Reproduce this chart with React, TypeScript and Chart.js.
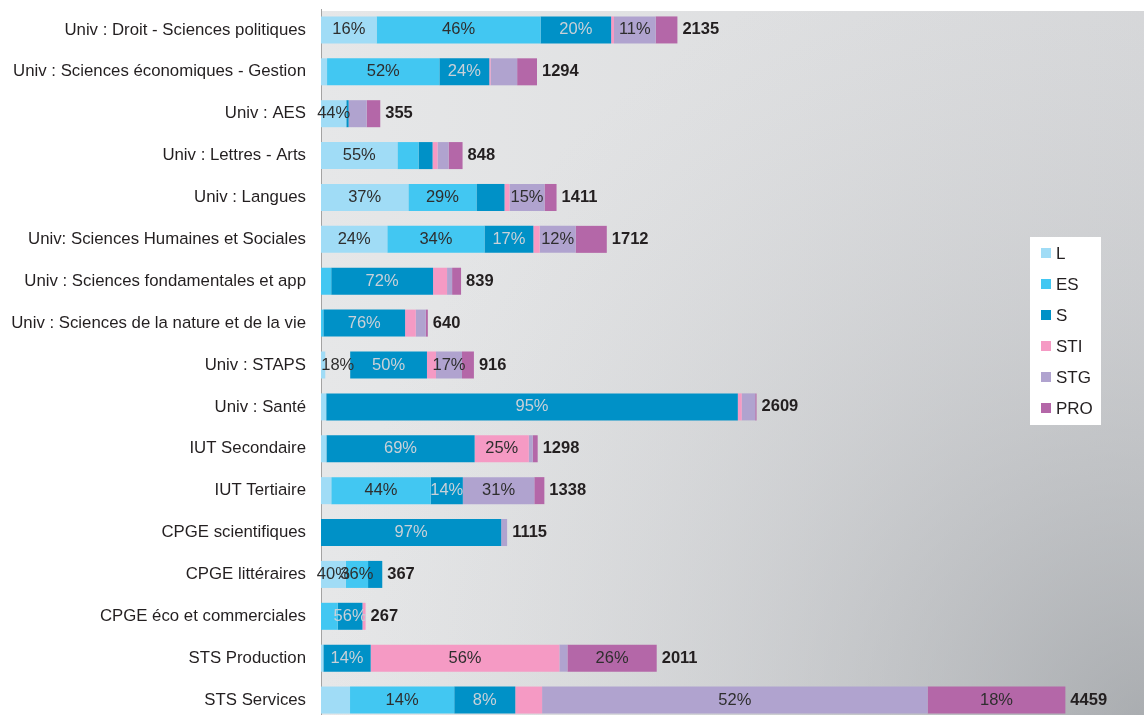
import React, { useEffect, useRef } from "react";
import { Chart, registerables } from "chart.js";

Chart.register(...registerables);

const categories = [
  "Univ : Droit - Sciences politiques",
  "Univ : Sciences économiques - Gestion",
  "Univ : AES",
  "Univ : Lettres - Arts",
  "Univ : Langues",
  "Univ: Sciences Humaines et Sociales",
  "Univ : Sciences fondamentales et app",
  "Univ : Sciences de la nature et de la vie",
  "Univ : STAPS",
  "Univ : Santé",
  "IUT Secondaire",
  "IUT Tertiaire",
  "CPGE scientifiques",
  "CPGE littéraires",
  "CPGE éco et commerciales",
  "STS Production",
  "STS Services",
];

const totals = [2135, 1294, 355, 848, 1411, 1712, 839, 640, 916, 2609, 1298, 1338, 1115, 367, 267, 2011, 4459];

const seriesNames = ["L", "ES", "S", "STI", "STG", "PRO"];
const seriesColors = ["#a0dcf6", "#42c7f2", "#0091c7", "#f59ac4", "#b0a3cf", "#b467a8"];

// share of each series in each category (%)
const pctL = [15.6, 2.8, 42.7, 54, 37.1, 23.2, 0, 0, 2.8, 1.2, 2.5, 4.6, 0, 40.3, 0, 0.7, 3.9];
const pctES = [46, 52, 0, 14.9, 28.9, 34, 7.3, 2.2, 16.3, 0, 0, 44.5, 0, 36.5, 37.5, 0, 14];
const pctS = [19.8, 23.1, 3.9, 9.9, 11.9, 17.1, 72.7, 76.5, 50.2, 94.5, 68.4, 14.4, 96.8, 23.2, 55.5, 14.1, 8.2];
const pctSTI = [0.8, 0.6, 0, 3.5, 2.1, 2.2, 10, 10, 5.9, 0.9, 25, 0, 0, 0, 7, 56.2, 3.6];
const pctSTG = [11.7, 12.3, 30.4, 7.8, 14.9, 12.6, 3.6, 9.4, 17, 3.1, 1.8, 32, 3.2, 0, 0, 2.4, 51.8];
const pctPRO = [6.1, 9.2, 23, 9.9, 5.1, 10.9, 6.4, 1.9, 7.8, 0.3, 2.3, 4.5, 0, 0, 0, 26.6, 18.5];

// data labels as printed on the segments ("" = no label)
const labL = ["16%", "", "44%", "55%", "37%", "24%", "", "", "", "", "", "", "", "40%", "", "", ""];
const labES = ["46%", "52%", "", "", "29%", "34%", "", "", "18%", "", "", "44%", "", "36%", "", "", "14%"];
const labS = ["20%", "24%", "", "", "", "17%", "72%", "76%", "50%", "95%", "69%", "14%", "97%", "", "56%", "14%", "8%"];
const labSTI = ["", "", "", "", "", "", "", "", "", "", "25%", "", "", "", "", "56%", ""];
const labSTG = ["11%", "", "", "", "15%", "12%", "", "", "17%", "", "", "31%", "", "", "", "", "52%"];
const labPRO = ["", "", "", "", "", "", "", "", "", "", "", "", "", "", "", "26%", "18%"];

// categories where the ES segment is left unfilled in the original
const esUnfilled = ["Univ : STAPS"];

const xMax = 4930;

const FONT = "'Liberation Sans', Arial, Helvetica, sans-serif";

export default function App() {
  const ref = useRef<HTMLCanvasElement | null>(null);

  useEffect(() => {
    if (!ref.current) return;
    const pcts = [pctL, pctES, pctS, pctSTI, pctSTG, pctPRO];
    const labs = [labL, labES, labS, labSTI, labSTG, labPRO];
    const lightText = [false, false, true, false, false, false];

    const datasets = seriesNames.map((name, si) => ({
      label: name,
      data: pcts[si].map((p, i) => (totals[i] * p) / 100),
      backgroundColor:
        name === "ES"
          ? categories.map((c) => (esUnfilled.includes(c) ? "rgba(0,0,0,0)" : seriesColors[si]))
          : seriesColors[si],
      borderWidth: 0,
      barPercentage: 0.645,
      categoryPercentage: 1,
    }));

    const bgPlugin = {
      id: "plotBg",
      beforeDraw(chart: any) {
        const { ctx, chartArea } = chart;
        const x0 = chartArea.left;
        const y0 = chartArea.top + 2;
        const x1 = chartArea.right;
        const y1 = chart.height;
        ctx.save();
        const g = ctx.createLinearGradient(x0, 0, x1, 0);
        g.addColorStop(0, "#e6e7e8");
        g.addColorStop(1, "#d8d9db");
        ctx.fillStyle = g;
        ctx.fillRect(x0, y0, x1 - x0, y1 - y0);
        const r = ctx.createRadialGradient(x1, y1, 0, x1, y1, 820);
        r.addColorStop(0, "rgba(150,154,158,0.7)");
        r.addColorStop(0.5, "rgba(170,173,177,0.3)");
        r.addColorStop(1, "rgba(200,202,205,0)");
        ctx.fillStyle = r;
        ctx.fillRect(x0, y0, x1 - x0, y1 - y0);
        ctx.restore();
      },
    };

    const labelPlugin = {
      id: "segLabels",
      afterDatasetsDraw(chart: any) {
        const { ctx } = chart;
        ctx.save();
        ctx.textBaseline = "middle";
        ctx.textAlign = "center";
        ctx.font = `16.5px ${FONT}`;
        chart.data.datasets.forEach((_ds: any, di: number) => {
          const meta = chart.getDatasetMeta(di);
          ctx.fillStyle = lightText[di] ? "#c9d1d8" : "#2e2e2e";
          meta.data.forEach((el: any, i: number) => {
            const t = labs[di][i];
            if (!t) return;
            const { x, y, base } = el.getProps(["x", "y", "base"], true);
            ctx.fillText(t, (x + base) / 2, y);
          });
        });
        ctx.textAlign = "left";
        ctx.fillStyle = "#231f20";
        ctx.font = `bold 16.5px ${FONT}`;
        const last = chart.getDatasetMeta(chart.data.datasets.length - 1);
        last.data.forEach((el: any, i: number) => {
          const { x, y } = el.getProps(["x", "y"], true);
          ctx.fillText(String(totals[i]), x + 5, y);
        });
        ctx.restore();
      },
    };

    const legendPlugin = {
      id: "boxLegend",
      afterDraw(chart: any) {
        const { ctx, chartArea } = chart;
        const bx = chartArea.right - 114;
        const by = chartArea.top + 228;
        const bw = 71;
        const rowH = 31;
        const bh = 188;
        ctx.save();
        ctx.fillStyle = "#ffffff";
        ctx.fillRect(bx, by, bw, bh);
        ctx.font = `17px ${FONT}`;
        ctx.textBaseline = "middle";
        ctx.textAlign = "left";
        seriesNames.forEach((n, i) => {
          const cy = by + 16 + i * rowH;
          ctx.fillStyle = seriesColors[i];
          ctx.fillRect(bx + 11, cy - 5, 10, 10);
          ctx.fillStyle = "#231f20";
          ctx.fillText(n, bx + 26, cy + 1);
        });
        ctx.restore();
      },
    };

    const chart = new Chart(ref.current, {
      type: "bar",
      data: { labels: categories, datasets: datasets as any },
      options: {
        indexAxis: "y",
        animation: false,
        responsive: false,
        devicePixelRatio: 1,
        layout: { padding: { top: 9, bottom: 1, left: 0, right: 0 } },
        plugins: {
          legend: { display: false },
          tooltip: { enabled: false },
        },
        scales: {
          x: {
            stacked: true,
            min: 0,
            max: xMax,
            display: false,
          },
          y: {
            stacked: true,
            grid: { display: false, drawTicks: false },
            border: { display: true, color: "#a3a3a3", width: 1 },
            ticks: {
              color: "#231f20",
              padding: 15,
              font: { family: FONT, size: 16.8 },
              autoSkip: false,
            },
            afterFit(scale: any) {
              scale.width = 321;
              scale.paddingTop = 0;
              scale.paddingBottom = 0;
            },
          },
        },
      },
      plugins: [bgPlugin, labelPlugin, legendPlugin],
    });
    return () => chart.destroy();
  }, []);

  return (
    <div
      style={{
        position: "fixed",
        left: 0,
        top: 0,
        width: 1144,
        height: 715,
        overflow: "hidden",
        background: "#ffffff",
      }}
    >
      <canvas ref={ref} width={1144} height={722} style={{ display: "block" }} />
    </div>
  );
}
